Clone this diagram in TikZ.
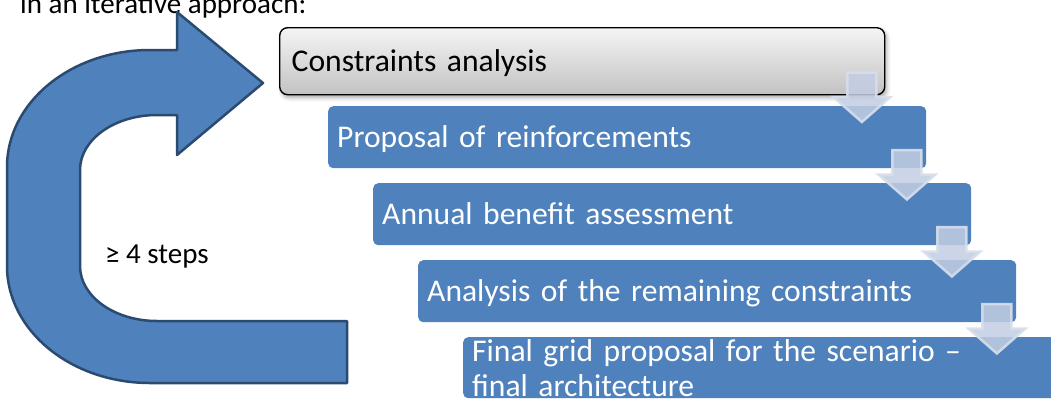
\documentclass[tikz,border=0pt]{standalone}
\usepackage{fontspec}
\setmainfont{Carlito}
\usetikzlibrary{calc,shadows.blur}

\definecolor{stepblue}{HTML}{4F81BD}
\definecolor{turnedge}{HTML}{2B4A6F}
\definecolor{flowfill}{HTML}{C3CEE3}
\definecolor{flowedge}{HTML}{D7DEEB}
\definecolor{greytop}{HTML}{F5F5F5}
\definecolor{greybottom}{HTML}{C2C2C2}

\tikzset{
  boxfont/.style={font=\fontsize{31.6bp}{35bp}\selectfont},
  labelfont/.style={font=\fontsize{29bp}{33bp}\selectfont},
  stepbox/.style={boxfont, fill=stepblue, text=white, rounded corners=5bp,
    anchor=north west, inner xsep=9bp, inner ysep=0bp, align=left,
    minimum width=598bp, text width=580bp},
  oneline/.style={minimum height=62bp, text height=20bp, text depth=0bp},
  headbox/.style={boxfont, draw=black, line width=1.4bp, rounded corners=8bp,
    top color=greytop, bottom color=greybottom,
    blur shadow={shadow xshift=2bp, shadow yshift=-3bp, shadow blur radius=4bp, shadow opacity=35},
    anchor=north west, inner xsep=12bp, inner ysep=0bp, align=left,
    minimum width=605bp, text width=581bp,
    minimum height=67bp, text height=20bp, text depth=0bp},
  flow/.style={fill=flowfill, fill opacity=0.85, draw=flowedge, draw opacity=0.9,
    line width=2.5bp, line join=miter},
  steparrow/.pic={
    \path[flow] (0,0) -- (28.5,25) -- (14.5,25) -- (14.5,49.5)
      -- (-14.5,49.5) -- (-14.5,25) -- (-28.5,25) -- cycle;
  }
}

\begin{document}
\begin{tikzpicture}[x=1bp,y=1bp]
\useasboundingbox (0,0) rectangle (1051,-401);
\clip (0,0) rectangle (1051,-401);

% heading line above the diagram
\node[labelfont, anchor=base west, inner sep=0pt] (intro) at (20,-13) {in an iterative approach:};

% U-turn arrow that closes the loop
\draw[fill=stepblue, draw=turnedge, line width=2.5bp, line join=round]
  (347,-383) -- (150,-383)
  arc[start angle=270, end angle=180, x radius=143, y radius=117]
  -- (7,-167)
  arc[start angle=180, end angle=90, x radius=143, y radius=117]
  -- (177,-50) -- (177,-12) -- (263,-83) -- (177,-155) -- (177,-115) -- (157,-115)
  arc[start angle=90, end angle=180, x radius=77, y radius=55]
  -- (80,-266)
  arc[start angle=180, end angle=270, x radius=77, y radius=55]
  -- (347,-321) -- cycle;

\node[labelfont, anchor=base west, inner sep=0pt] (loops) at (105,-263) {≥ 4 steps};

% the process steps
\node[headbox] (b1) at (279,-27) {Constraints analysis};
\node[stepbox, oneline] (b2) at (328,-106) {Proposal of reinforcements};
\node[stepbox, oneline] (b3) at (373,-183) {Annual benefit assessment};
\node[stepbox, oneline] (b4) at (418,-260) {Analysis of the remaining constraints};
\node[stepbox, minimum height=61bp, minimum width=640bp, text width=622bp] (b5) at (463,-337)
  {Final grid proposal for the scenario –\\final architecture};

% transition arrows between consecutive steps
\pic at ($(b2.north east)+(-64.5,-16)$) {steparrow};
\pic at ($(b3.north east)+(-64.5,-16.5)$) {steparrow};
\pic at ($(b4.north east)+(-64.5,-16.5)$) {steparrow};
\pic at ($(b4.north east)+(-19.5,-93.5)$) {steparrow};
\end{tikzpicture}
\end{document}
